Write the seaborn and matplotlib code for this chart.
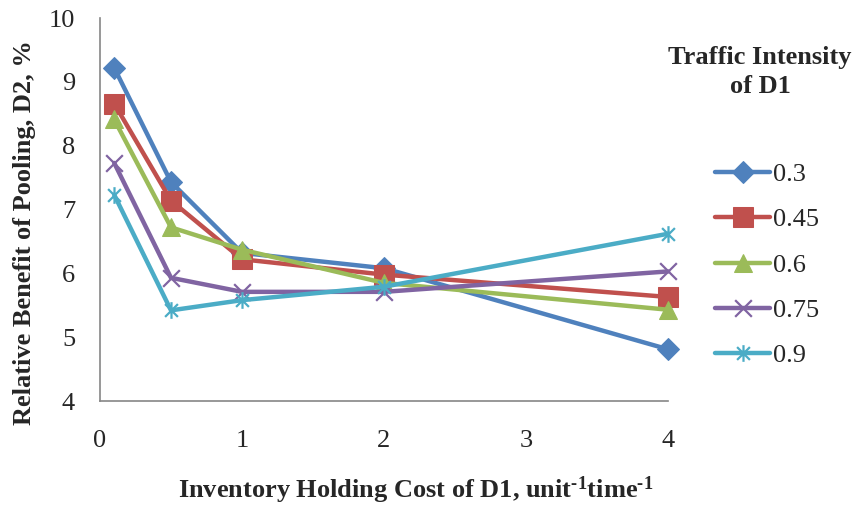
import numpy as np
import pandas as pd
import matplotlib
matplotlib.use("Agg")
import matplotlib.pyplot as plt
from matplotlib.path import Path
import seaborn as sns

holding_cost = [0.1, 0.5, 1, 2, 4]
intensity_labels = ["0.3", "0.45", "0.6", "0.75", "0.9"]
benefit_03 = [9.22, 7.43, 6.32, 6.08, 4.81]
benefit_045 = [8.66, 7.14, 6.22, 5.98, 5.63]
benefit_06 = [8.41, 6.72, 6.37, 5.85, 5.43]
benefit_075 = [7.73, 5.93, 5.71, 5.71, 6.03]
benefit_09 = [7.23, 5.42, 5.58, 5.79, 6.62]

series = [benefit_03, benefit_045, benefit_06, benefit_075, benefit_09]
colors = ["#4F81BD", "#C0504D", "#9BBB59", "#8064A2", "#4BACC6"]

# Excel-style star: an X crossed by a vertical bar
star = Path([(-1, -1), (1, 1), (-1, 1), (1, -1), (0, -1.3), (0, 1.3)],
            [Path.MOVETO, Path.LINETO, Path.MOVETO, Path.LINETO, Path.MOVETO, Path.LINETO])
cross = Path([(-1, -1), (1, 1), (-1, 1), (1, -1)],
             [Path.MOVETO, Path.LINETO, Path.MOVETO, Path.LINETO])
markers = ["D", "s", "^", cross, star]
msizes = [11, 14.5, 13.5, 12, 12]

rows = []
for lab, vals in zip(intensity_labels, series):
    for x, y in zip(holding_cost, vals):
        rows.append({"cost": x, "benefit": y, "intensity": lab})
df = pd.DataFrame(rows)

sns.set_style("white")
plt.rcParams["font.family"] = ["Liberation Serif", "DejaVu Serif"]
plt.rcParams["mathtext.fontset"] = "custom"
plt.rcParams["mathtext.rm"] = "Liberation Serif:bold"
plt.rcParams["mathtext.bf"] = "Liberation Serif:bold"
plt.rcParams["mathtext.it"] = "Liberation Serif:bold"

FS = 19

fig = plt.figure(figsize=(8.58, 5.09), dpi=100)
ax = fig.add_axes([100 / 858, 1 - 401 / 509, 568 / 858, 383 / 509])

for lab, col, mk, ms in zip(intensity_labels, colors, markers, msizes):
    sub = df[df["intensity"] == lab]
    filled = not isinstance(mk, Path)
    kw = dict(markerfacecolor=col, markeredgecolor=col) if filled else dict(markeredgecolor=col, markeredgewidth=1.6)
    sns.lineplot(data=sub, x="cost", y="benefit", ax=ax, color=col, linewidth=3.2,
                 marker=mk, markersize=ms, label=lab, clip_on=False, **kw)

ax.set_xlim(0, 4)
ax.set_ylim(4, 10)
ax.set_xticks([0, 1, 2, 3, 4])
ax.set_yticks([4, 5, 6, 7, 8, 9, 10])
ax.tick_params(axis="x", length=6, width=1.2, color="#868686", pad=15, labelsize=FS)
ax.tick_params(axis="y", length=0, pad=18, labelsize=FS)
for s in ["top", "right"]:
    ax.spines[s].set_visible(False)
for s in ["left", "bottom"]:
    ax.spines[s].set_color("#868686")
    ax.spines[s].set_linewidth(1.2)

ax.set_xlabel(r"Inventory Holding Cost of D1, unit$^{\text{-1}}$time$^{\text{-1}}$",
              fontsize=FS, fontweight="bold", labelpad=16)
ax.set_ylabel("Relative Benefit of Pooling, D2, %", fontsize=FS, fontweight="bold", labelpad=9)
ax.xaxis.label.set_x(0.556)
ax.yaxis.label.set_y(0.441)

fig.text(760 / 858, 1 - 72 / 509, "Traffic Intensity\nof D1", ha="center", va="center",
         fontsize=FS, fontweight="bold", linespacing=1.35)
leg = ax.legend(loc="center left", bbox_to_anchor=(715 / 858, 1 - 265 / 509),
                bbox_transform=fig.transFigure, frameon=False, fontsize=FS,
                handlelength=2.1, handletextpad=0.1, labelspacing=0.83, borderaxespad=0,
                borderpad=0)

fig.savefig("out.png", dpi=100)
